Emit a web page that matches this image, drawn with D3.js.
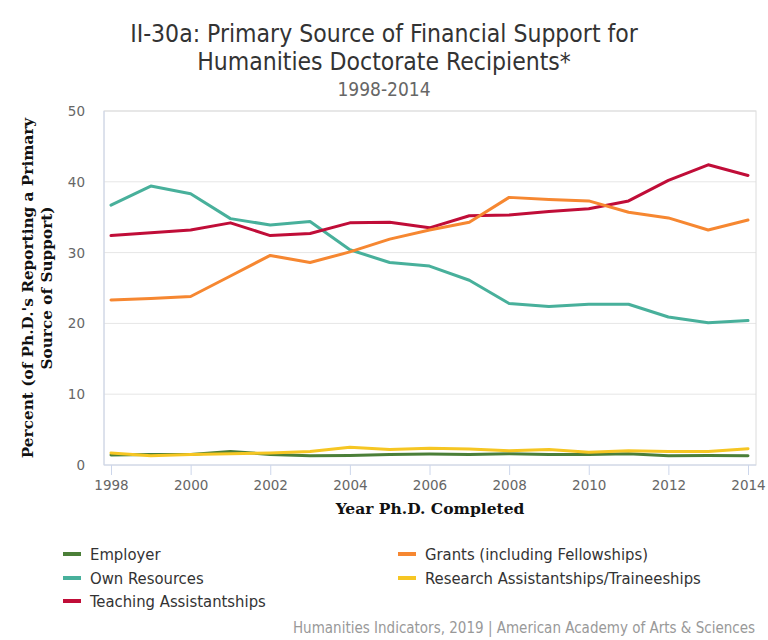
<!DOCTYPE html>
<html><head><meta charset="utf-8">
<script src="https://cdn.jsdelivr.net/npm/d3@7"></script>
<style>body{margin:0;background:#fff}svg{display:block}</style>
</head><body>
<svg id="c" width="768" height="640"></svg>
<script>
const years = d3.range(1998, 2015);
const employer = [1.4,1.5,1.5,1.9,1.5,1.3,1.35,1.5,1.55,1.5,1.6,1.5,1.5,1.6,1.3,1.35,1.3];
const ownResources = [36.7,39.4,38.3,34.8,33.9,34.4,30.4,28.6,28.1,26.1,22.8,22.4,22.7,22.7,20.9,20.1,20.4];
const teaching = [32.4,32.8,33.2,34.2,32.4,32.7,34.2,34.3,33.5,35.2,35.3,35.8,36.2,37.3,40.2,42.4,40.9];
const grants = [23.3,23.5,23.8,26.7,29.6,28.6,30.1,31.9,33.2,34.3,37.8,37.5,37.3,35.7,34.9,33.2,34.6];
const research = [1.7,1.3,1.5,1.6,1.7,1.9,2.5,2.2,2.35,2.25,2.0,2.2,1.8,2.0,1.9,1.9,2.3];
const xTicks = [1998,2000,2002,2004,2006,2008,2010,2012,2014];
const yTicks = [0,10,20,30,40,50];

const series = [
  {name:"Employer", values:employer, color:"#4b7f38"},
  {name:"Own Resources", values:ownResources, color:"#48b09b"},
  {name:"Teaching Assistantships", values:teaching, color:"#c00d38"},
  {name:"Grants (including Fellowships)", values:grants, color:"#f68731"},
  {name:"Research Assistantships/Traineeships", values:research, color:"#f6c623"}
];

const COND = "DejaVu Sans Condensed, DejaVu Sans";
const svg = d3.select("#c");
const L=104, R=756, T=111, B=465;
const x = d3.scaleLinear().domain([1998,2014]).range([111,748]);
const y = d3.scaleLinear().domain([0,50]).range([B,T]);

svg.append("g").selectAll("line").data(yTicks.filter(d=>d>0)).join("line")
  .attr("x1",L).attr("x2",R).attr("y1",d=>y(d)).attr("y2",d=>y(d))
  .attr("stroke","#e6e6e6").attr("stroke-width",1);
svg.append("rect").attr("x",L).attr("y",T).attr("width",R-L).attr("height",B-T)
  .attr("fill","none").attr("stroke","#dcdcdc").attr("stroke-width",1);
svg.append("line").attr("x1",L).attr("x2",L).attr("y1",T).attr("y2",B).attr("stroke","#ccd6eb");
svg.append("line").attr("x1",L).attr("x2",R).attr("y1",B).attr("y2",B).attr("stroke","#ccd6eb");

svg.append("g").selectAll("text").data(yTicks).join("text")
  .attr("x",85).attr("y",d=>y(d)+5).attr("text-anchor","end")
  .attr("font-family","DejaVu Sans").attr("font-size",13.5).attr("fill","#666")
  .text(d=>d);

const xAxis = d3.axisBottom(x).tickValues(xTicks).tickFormat(d3.format("d")).tickSize(10).tickPadding(5);
const gx = svg.append("g").attr("transform",`translate(0,${B})`).call(xAxis);
gx.select(".domain").remove();
gx.selectAll(".tick line").attr("stroke","#ccd6eb");
gx.selectAll(".tick text").attr("font-family","DejaVu Sans").attr("font-size",13.5).attr("fill","#666");

const line = d3.line().x((d,i)=>x(years[i])).y(d=>y(d));
svg.append("g").selectAll("path").data(series).join("path")
  .attr("d",d=>line(d.values)).attr("fill","none").attr("stroke",d=>d.color)
  .attr("stroke-width",3).attr("stroke-linejoin","round").attr("stroke-linecap","round");

svg.append("text").attr("x",384).attr("y",42).attr("text-anchor","middle")
  .attr("font-family",COND).attr("font-size",24.5).attr("fill","#333")
  .text("II-30a: Primary Source of Financial Support for");
svg.append("text").attr("x",384).attr("y",70).attr("text-anchor","middle")
  .attr("font-family",COND).attr("font-size",24.5).attr("fill","#333")
  .text("Humanities Doctorate Recipients*");
svg.append("text").attr("x",384).attr("y",96).attr("text-anchor","middle")
  .attr("font-family",COND).attr("font-size",19).attr("fill","#666")
  .text("1998-2014");

svg.append("text").attr("x",(L+R)/2).attr("y",514).attr("text-anchor","middle")
  .attr("font-family","DejaVu Serif").attr("font-weight","bold").attr("font-size",15.5).attr("fill","#111")
  .text("Year Ph.D. Completed");
const yt = svg.append("text").attr("transform","translate(33,288) rotate(-90)").attr("text-anchor","middle")
  .attr("font-family","DejaVu Serif").attr("font-weight","bold").attr("font-size",15.3).attr("fill","#111");
yt.append("tspan").attr("x",0).attr("dy",0).text("Percent (of Ph.D.'s Reporting a Primary");
yt.append("tspan").attr("x",0).attr("dy",19).text("Source of Support)");

const legPos = [[63,554],[63,578],[63,601],[398,554],[398,578]];
const lg = svg.append("g").selectAll("g").data(series).join("g")
  .attr("transform",(d,i)=>`translate(${legPos[i][0]},${legPos[i][1]})`);
lg.append("line").attr("x1",0).attr("x2",18).attr("y1",0).attr("y2",0).attr("stroke",d=>d.color).attr("stroke-width",4);
lg.append("text").attr("x",27).attr("y",6).attr("font-family",COND)
  .attr("font-size",16.5).attr("fill","#333").text(d=>d.name);

svg.append("text").attr("x",755).attr("y",633).attr("text-anchor","end")
  .attr("font-family",COND).attr("font-size",15).attr("fill","#999")
  .text("Humanities Indicators, 2019 | American Academy of Arts & Sciences");
</script>
</body></html>
